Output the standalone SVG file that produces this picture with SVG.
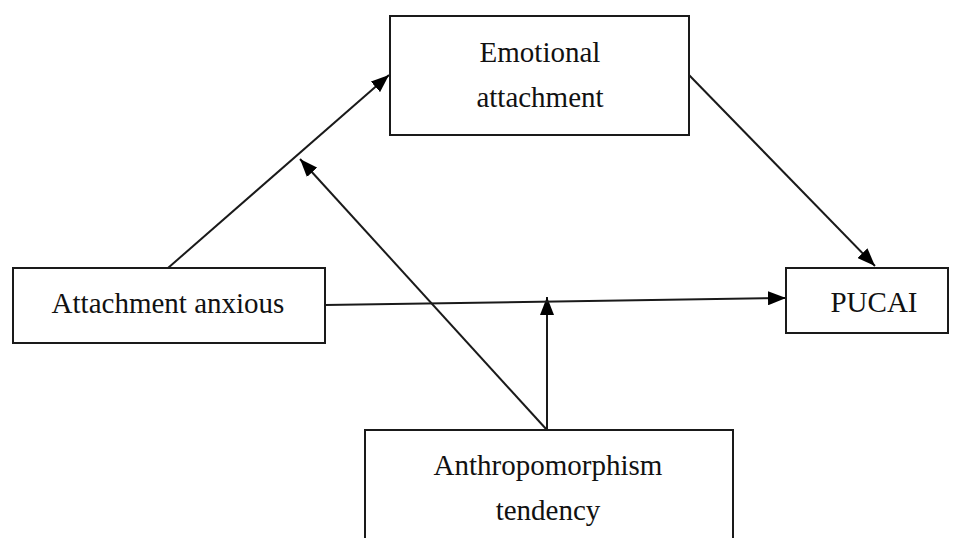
<svg xmlns="http://www.w3.org/2000/svg" width="953" height="538" viewBox="0 0 953 538">
<style>
.box{fill:#fff;stroke:#1a1a1a;stroke-width:2}
.lbl{font-family:"Liberation Serif","Times New Roman",serif;font-size:29px;fill:#111;text-anchor:middle}
.con{stroke:#1a1a1a;stroke-width:2;fill:none;marker-end:url(#ah)}
</style>
<defs>
<marker id="ah" viewBox="0 0 18 14" refX="18" refY="7" markerWidth="18" markerHeight="14" markerUnits="userSpaceOnUse" orient="auto">
<path d="M0,0 L18,7 L0,14 Z" fill="#000"/>
</marker>
</defs>
<rect width="953" height="538" fill="#fff"/>
<g id="connectors">
<line class="con" x1="168" y1="268" x2="389" y2="75"/>
<line class="con" x1="547" y1="430" x2="300" y2="159"/>
<line class="con" x1="547" y1="430" x2="547" y2="297"/>
<line class="con" x1="325" y1="305" x2="786" y2="298"/>
<line class="con" x1="689" y1="75" x2="875" y2="266"/>
</g>
<g id="emotional">
<rect class="box" x="390" y="16" width="299" height="119"/>
<text class="lbl" x="540" y="62">Emotional</text>
<text class="lbl" x="540" y="107">attachment</text>
</g>
<g id="anxious">
<rect class="box" x="13" y="268" width="312" height="75"/>
<text class="lbl" x="168" y="313">Attachment anxious</text>
</g>
<g id="pucai">
<rect class="box" x="786" y="268" width="162" height="65"/>
<text class="lbl" x="874" y="312">PUCAI</text>
</g>
<g id="anthropo">
<rect class="box" x="365" y="430" width="368" height="120"/>
<text class="lbl" x="548" y="475">Anthropomorphism</text>
<text class="lbl" x="548" y="520">tendency</text>
</g>
</svg>
